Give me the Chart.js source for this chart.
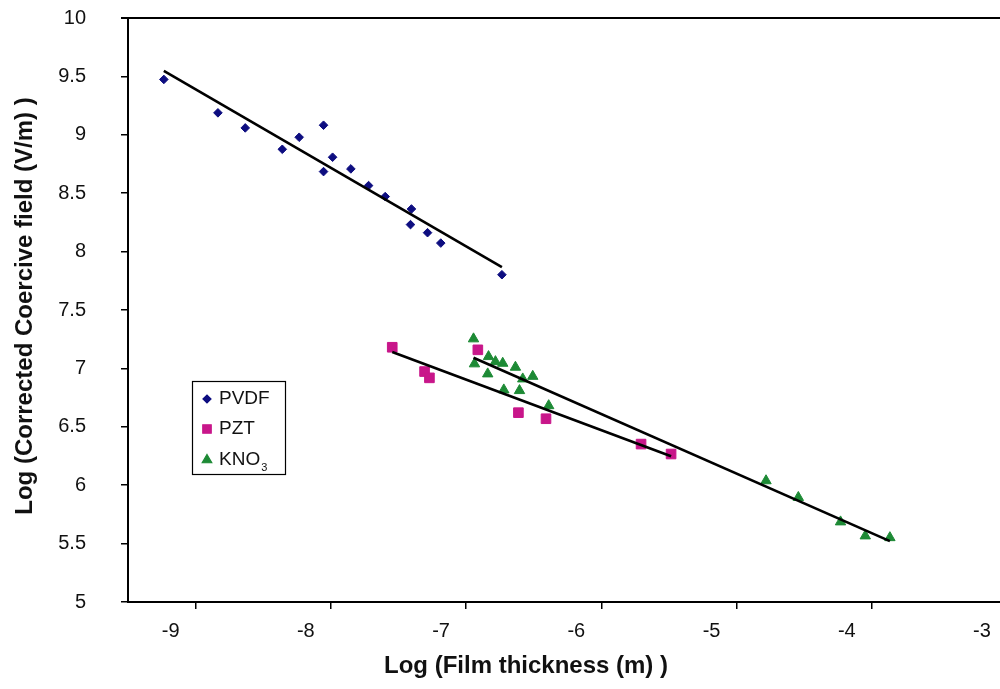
<!DOCTYPE html>
<html>
<head>
<meta charset="utf-8">
<title>Coercive field vs film thickness</title>
<script src="https://cdn.jsdelivr.net/npm/chart.js@4/dist/chart.umd.min.js"></script>
<style>
  html, body { margin: 0; padding: 0; background: #fff; overflow: hidden; }
  #wrap { width: 1020px; height: 689px; }
</style>
</head>
<body>
<div id="wrap"><canvas id="chart" width="1020" height="689"></canvas></div>
<script>
// =============================================
// Data
// =============================================
const pvdfX = [-9.235, -8.835, -8.633, -8.359, -8.234, -8.054, -8.054, -7.987,
               -7.852, -7.721, -7.598, -7.404, -7.411, -7.285, -7.187, -6.735];
const pvdfY = [9.474, 9.188, 9.059, 8.876, 8.979, 9.082, 8.685, 8.808,
               8.708, 8.565, 8.471, 8.365, 8.231, 8.162, 8.073, 7.802];

const pztX = [-7.546, -6.913, -7.307, -7.271, -6.613, -6.409, -5.706, -5.484];
const pztY = [7.181, 7.159, 6.973, 6.919, 6.621, 6.569, 6.352, 6.267];

const kno3X = [-6.945, -6.834, -6.938, -6.783, -6.729, -6.635, -6.840, -6.581, -6.507,
               -6.721, -6.605, -6.389, -4.782, -4.543, -4.231, -4.048, -3.866];
const kno3Y = [7.253, 7.101, 7.039, 7.058, 7.044, 7.010, 6.953, 6.910, 6.932,
               6.816, 6.810, 6.681, 6.038, 5.895, 5.686, 5.566, 5.551];

const seriesNames = ['PVDF', 'PZT', 'KNO₃'];
const xTicks = [-9, -8, -7, -6, -5, -4, -3];
const yTicks = [5, 5.5, 6, 6.5, 7, 7.5, 8, 8.5, 9, 9.5, 10];

const FONT = "'Liberation Sans', Arial, sans-serif";
const COLORS = ['#0d0d80', '#c8168a', '#1d8a35'];

// =============================================
// Helpers
// =============================================

function toPoints(xs, ys) {
  return xs.map((x, i) => ({ x, y: ys[i] }));
}

/**
 * Least squares trend line, spanning the data's x range (like a spreadsheet trendline)
 */
function trendLine(xs, ys) {
  const n = xs.length;
  const mx = xs.reduce((a, b) => a + b, 0) / n;
  const my = ys.reduce((a, b) => a + b, 0) / n;
  let sxy = 0, sxx = 0;
  xs.forEach((x, i) => {
    sxy += (x - mx) * (ys[i] - my);
    sxx += (x - mx) * (x - mx);
  });
  const slope = sxy / sxx;
  const x0 = Math.min(...xs);
  const x1 = Math.max(...xs);
  return [
    { x: x0, y: my + slope * (x0 - mx) },
    { x: x1, y: my + slope * (x1 - mx) },
  ];
}

function scatterSet(label, xs, ys, color, style, radius) {
  return {
    type: 'scatter',
    label,
    data: toPoints(xs, ys),
    pointStyle: style,
    pointRadius: radius,
    pointHoverRadius: radius,
    backgroundColor: color,
    borderColor: color,
    borderWidth: 1,
    order: 1,
  };
}

function lineSet(xs, ys) {
  return {
    type: 'line',
    label: '',
    data: trendLine(xs, ys),
    borderColor: '#000',
    borderWidth: 2.6,
    pointRadius: 0,
    fill: false,
    tension: 0,
    order: 0,
  };
}

// =============================================
// Plugins: frame top line, axis titles, legend box
// =============================================
const decorPlugin = {
  id: 'decor',
  afterDraw(chart) {
    const ctx = chart.ctx;
    const area = chart.chartArea;
    ctx.save();

    // top frame line
    ctx.strokeStyle = '#000';
    ctx.lineWidth = 2;
    ctx.beginPath();
    ctx.moveTo(area.left - 7, area.top);
    ctx.lineTo(area.right, area.top);
    ctx.stroke();

    // axis titles
    ctx.fillStyle = '#111';
    ctx.font = `bold 24px ${FONT}`;
    ctx.textAlign = 'center';
    ctx.textBaseline = 'middle';
    ctx.fillText('Log (Film thickness (m) )', 526, 666);

    ctx.translate(25, 306);
    ctx.rotate(-Math.PI / 2);
    ctx.fillText('Log (Corrected Coercive field (V/m) )', 0, 0);
    ctx.setTransform(1, 0, 0, 1, 0, 0);

    // legend
    const box = { x: 192, y: 381, w: 93, h: 93 };
    ctx.fillStyle = '#fff';
    ctx.fillRect(box.x, box.y, box.w, box.h);
    ctx.strokeStyle = '#000';
    ctx.lineWidth = 1.2;
    ctx.strokeRect(box.x + 0.5, box.y + 0.5, box.w, box.h);

    const styles = [['rectRot', 4], ['rect', 6], ['triangle', 5.5]];
    const rows = [399, 429, 460];
    ctx.textAlign = 'left';
    ctx.textBaseline = 'middle';
    rows.forEach((y, i) => {
      ctx.fillStyle = COLORS[i];
      ctx.strokeStyle = COLORS[i];
      Chart.helpers.drawPoint(ctx, {
        pointStyle: styles[i][0],
        radius: styles[i][1],
        rotation: 0,
        borderWidth: 1,
      }, 207, y);

      ctx.fillStyle = '#111';
      ctx.font = `19px ${FONT}`;
      if (i === 2) {
        ctx.fillText('KNO', 219, y);
        const w = ctx.measureText('KNO').width;
        ctx.font = `11px ${FONT}`;
        ctx.fillText('3', 219 + w + 1, y + 8);
      } else {
        ctx.fillText(seriesNames[i], 219, y);
      }
    });

    ctx.restore();
  },
};

// =============================================
// Chart
// =============================================
const ctx = document.getElementById('chart').getContext('2d');

new Chart(ctx, {
  data: {
    datasets: [
      lineSet(pvdfX, pvdfY),
      lineSet(pztX, pztY),
      lineSet(kno3X, kno3Y),
      scatterSet(seriesNames[0], pvdfX, pvdfY, COLORS[0], 'rectRot', 4.3),
      scatterSet(seriesNames[1], pztX, pztY, COLORS[1], 'rect', 6.8),
      scatterSet(seriesNames[2], kno3X, kno3Y, COLORS[2], 'triangle', 6),
    ],
  },
  options: {
    responsive: false,
    animation: false,
    devicePixelRatio: 1,
    layout: { padding: { top: 18, right: 13, left: 0, bottom: 0 } },
    plugins: {
      legend: { display: false },
      tooltip: { enabled: false },
    },
    scales: {
      x: {
        type: 'linear',
        min: -9.5,
        max: -3,
        afterBuildTicks: (scale) => { scale.ticks = xTicks.map(v => ({ value: v })); },
        afterFit: (scale) => {
          scale.height = 87;
          scale.paddingLeft = 0;
          scale.paddingRight = 0;
        },
        ticks: {
          color: '#111',
          font: { family: FONT, size: 20 },
          padding: 10,
          labelOffset: -25,
          maxRotation: 0,
          callback: (v) => String(v),
        },
        grid: {
          drawOnChartArea: false,
          drawTicks: true,
          tickLength: 7,
          color: '#000',
          lineWidth: 1.5,
        },
        border: { display: true, color: '#000', width: 2 },
      },
      y: {
        type: 'linear',
        min: 5,
        max: 10,
        afterBuildTicks: (scale) => { scale.ticks = yTicks.map(v => ({ value: v })); },
        afterFit: (scale) => {
          scale.width = 128;
          scale.paddingTop = 0;
          scale.paddingBottom = 0;
        },
        ticks: {
          color: '#111',
          font: { family: FONT, size: 20 },
          padding: 35,
          callback: (v) => String(v),
        },
        grid: {
          drawOnChartArea: false,
          drawTicks: true,
          tickLength: 7,
          color: '#000',
          lineWidth: 1.5,
        },
        border: { display: true, color: '#000', width: 2 },
      },
    },
  },
  plugins: [decorPlugin],
});
</script>
</body>
</html>
